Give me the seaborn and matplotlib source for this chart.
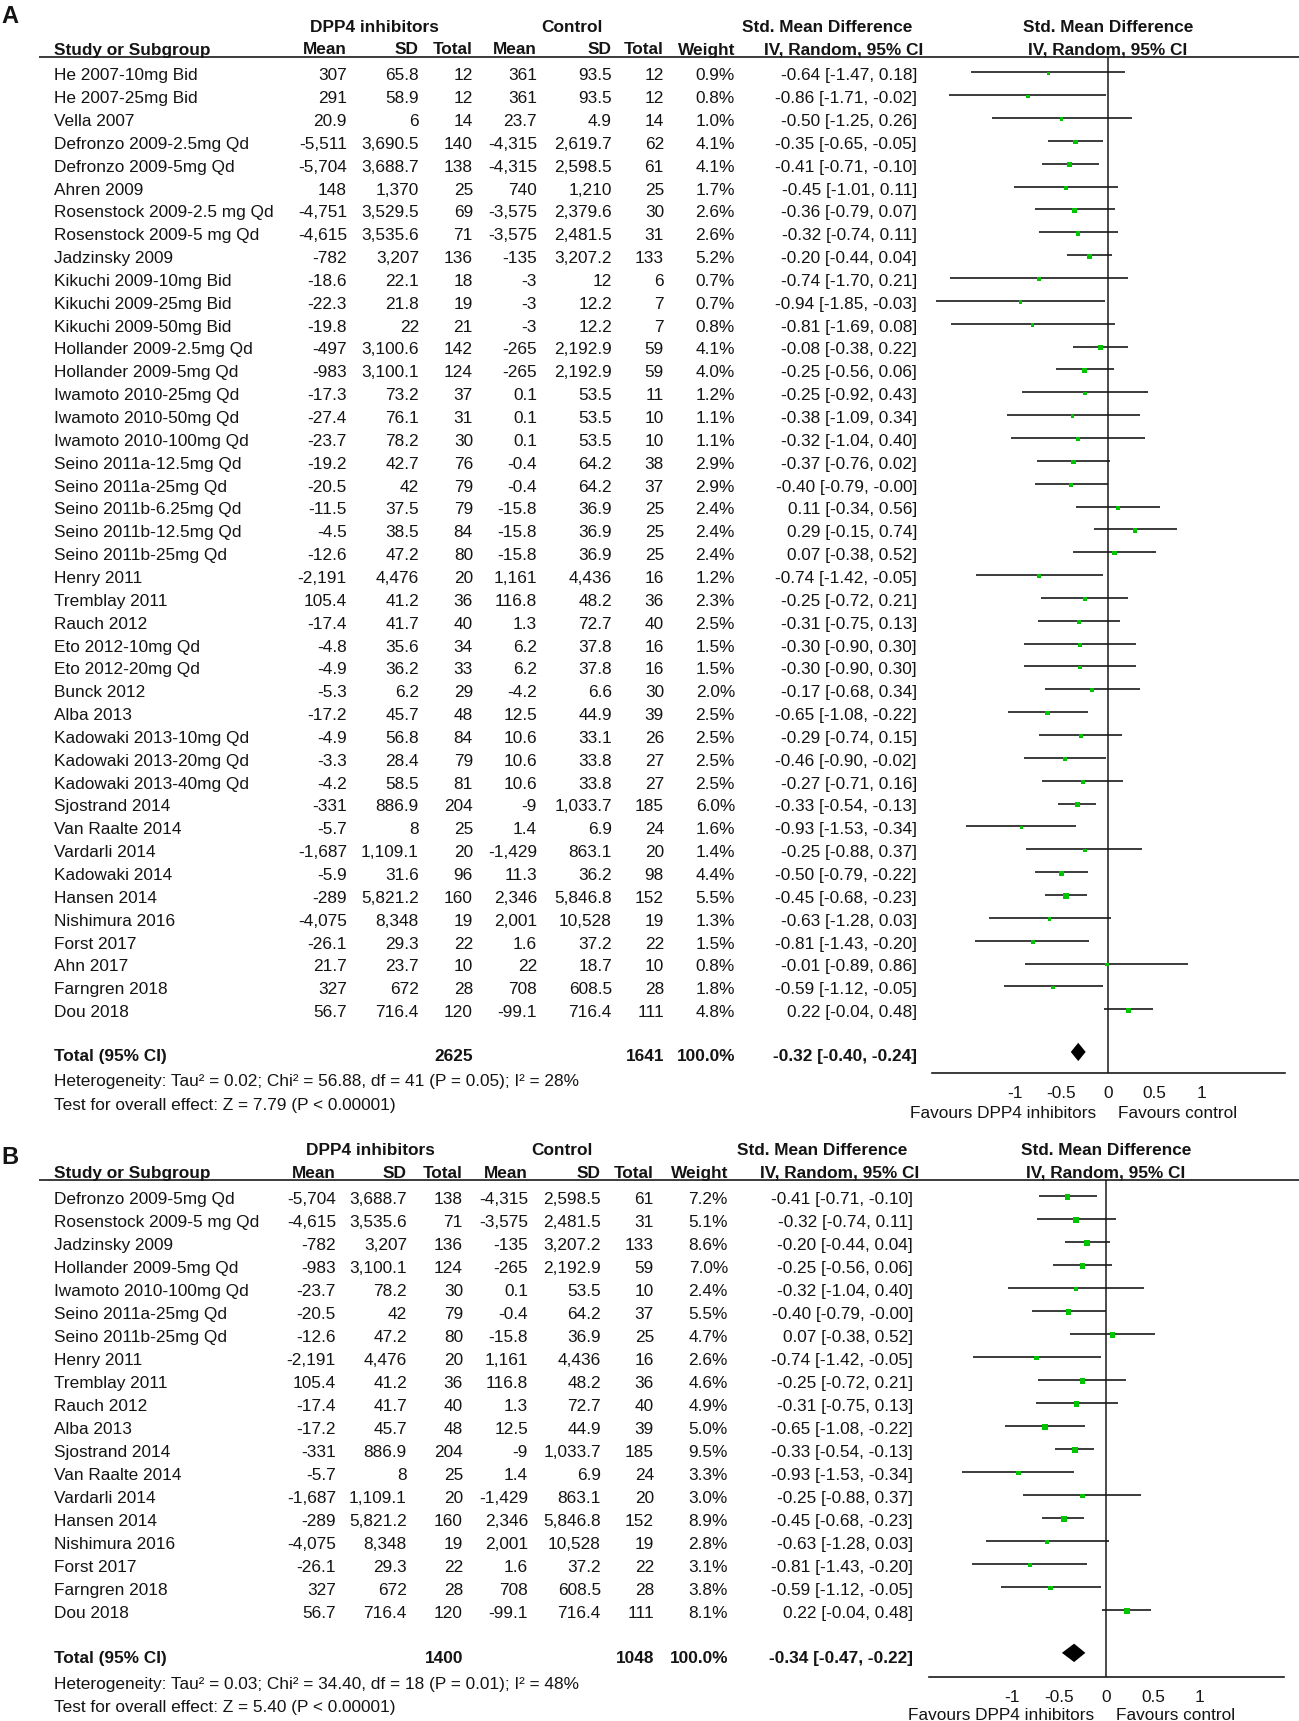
import matplotlib
matplotlib.use("Agg")
import matplotlib.pyplot as plt
import seaborn as sns
import pandas as pd
from matplotlib.transforms import blended_transform_factory

# ---------------- data : panel A ----------------
studies_a = ["He 2007-10mg Bid", "He 2007-25mg Bid", "Vella 2007", "Defronzo 2009-2.5mg Qd",
             "Defronzo 2009-5mg Qd", "Ahren 2009", "Rosenstock 2009-2.5 mg Qd", "Rosenstock 2009-5 mg Qd",
             "Jadzinsky 2009", "Kikuchi 2009-10mg Bid", "Kikuchi 2009-25mg Bid", "Kikuchi 2009-50mg Bid",
             "Hollander 2009-2.5mg Qd", "Hollander 2009-5mg Qd", "Iwamoto 2010-25mg Qd", "Iwamoto 2010-50mg Qd",
             "Iwamoto 2010-100mg Qd", "Seino 2011a-12.5mg Qd", "Seino 2011a-25mg Qd", "Seino 2011b-6.25mg Qd",
             "Seino 2011b-12.5mg Qd", "Seino 2011b-25mg Qd", "Henry 2011", "Tremblay 2011", "Rauch 2012",
             "Eto 2012-10mg Qd", "Eto 2012-20mg Qd", "Bunck 2012", "Alba 2013", "Kadowaki 2013-10mg Qd",
             "Kadowaki 2013-20mg Qd", "Kadowaki 2013-40mg Qd", "Sjostrand 2014", "Van Raalte 2014",
             "Vardarli 2014", "Kadowaki 2014", "Hansen 2014", "Nishimura 2016", "Forst 2017", "Ahn 2017",
             "Farngren 2018", "Dou 2018"]
dpp4_mean_a = [307, 291, 20.9, -5511, -5704, 148, -4751, -4615, -782, -18.6, -22.3, -19.8, -497, -983,
               -17.3, -27.4, -23.7, -19.2, -20.5, -11.5, -4.5, -12.6, -2191, 105.4, -17.4, -4.8, -4.9, -5.3,
               -17.2, -4.9, -3.3, -4.2, -331, -5.7, -1687, -5.9, -289, -4075, -26.1, 21.7, 327, 56.7]
dpp4_sd_a = [65.8, 58.9, 6, 3690.5, 3688.7, 1370, 3529.5, 3535.6, 3207, 22.1, 21.8, 22, 3100.6, 3100.1,
             73.2, 76.1, 78.2, 42.7, 42, 37.5, 38.5, 47.2, 4476, 41.2, 41.7, 35.6, 36.2, 6.2, 45.7, 56.8,
             28.4, 58.5, 886.9, 8, 1109.1, 31.6, 5821.2, 8348, 29.3, 23.7, 672, 716.4]
dpp4_n_a = [12, 12, 14, 140, 138, 25, 69, 71, 136, 18, 19, 21, 142, 124, 37, 31, 30, 76, 79, 79, 84, 80,
            20, 36, 40, 34, 33, 29, 48, 84, 79, 81, 204, 25, 20, 96, 160, 19, 22, 10, 28, 120]
ctrl_mean_a = [361, 361, 23.7, -4315, -4315, 740, -3575, -3575, -135, -3, -3, -3, -265, -265, 0.1, 0.1,
               0.1, -0.4, -0.4, -15.8, -15.8, -15.8, 1161, 116.8, 1.3, 6.2, 6.2, -4.2, 12.5, 10.6, 10.6,
               10.6, -9, 1.4, -1429, 11.3, 2346, 2001, 1.6, 22, 708, -99.1]
ctrl_sd_a = [93.5, 93.5, 4.9, 2619.7, 2598.5, 1210, 2379.6, 2481.5, 3207.2, 12, 12.2, 12.2, 2192.9, 2192.9,
             53.5, 53.5, 53.5, 64.2, 64.2, 36.9, 36.9, 36.9, 4436, 48.2, 72.7, 37.8, 37.8, 6.6, 44.9, 33.1,
             33.8, 33.8, 1033.7, 6.9, 863.1, 36.2, 5846.8, 10528, 37.2, 18.7, 608.5, 716.4]
ctrl_n_a = [12, 12, 14, 62, 61, 25, 30, 31, 133, 6, 7, 7, 59, 59, 11, 10, 10, 38, 37, 25, 25, 25, 16, 36,
            40, 16, 16, 30, 39, 26, 27, 27, 185, 24, 20, 98, 152, 19, 22, 10, 28, 111]
weight_a = [0.9, 0.8, 1.0, 4.1, 4.1, 1.7, 2.6, 2.6, 5.2, 0.7, 0.7, 0.8, 4.1, 4.0, 1.2, 1.1, 1.1, 2.9, 2.9,
            2.4, 2.4, 2.4, 1.2, 2.3, 2.5, 1.5, 1.5, 2.0, 2.5, 2.5, 2.5, 2.5, 6.0, 1.6, 1.4, 4.4, 5.5, 1.3,
            1.5, 0.8, 1.8, 4.8]
smd_a = [-0.64, -0.86, -0.50, -0.35, -0.41, -0.45, -0.36, -0.32, -0.20, -0.74, -0.94, -0.81, -0.08, -0.25,
         -0.25, -0.38, -0.32, -0.37, -0.40, 0.11, 0.29, 0.07, -0.74, -0.25, -0.31, -0.30, -0.30, -0.17,
         -0.65, -0.29, -0.46, -0.27, -0.33, -0.93, -0.25, -0.50, -0.45, -0.63, -0.81, -0.01, -0.59, 0.22]
lo_a = [-1.47, -1.71, -1.25, -0.65, -0.71, -1.01, -0.79, -0.74, -0.44, -1.70, -1.85, -1.69, -0.38, -0.56,
        -0.92, -1.09, -1.04, -0.76, -0.79, -0.34, -0.15, -0.38, -1.42, -0.72, -0.75, -0.90, -0.90, -0.68,
        -1.08, -0.74, -0.90, -0.71, -0.54, -1.53, -0.88, -0.79, -0.68, -1.28, -1.43, -0.89, -1.12, -0.04]
hi_a = [0.18, -0.02, 0.26, -0.05, -0.10, 0.11, 0.07, 0.11, 0.04, 0.21, -0.03, 0.08, 0.22, 0.06, 0.43, 0.34,
        0.40, 0.02, -0.00, 0.56, 0.74, 0.52, -0.05, 0.21, 0.13, 0.30, 0.30, 0.34, -0.22, 0.15, -0.02, 0.16,
        -0.13, -0.34, 0.37, -0.22, -0.23, 0.03, -0.20, 0.86, -0.05, 0.48]
total_a = {"n_dpp4": 2625, "n_ctrl": 1641, "smd": -0.32, "lo": -0.40, "hi": -0.24}
het_a = "Heterogeneity: Tau² = 0.02; Chi² = 56.88, df = 41 (P = 0.05); I² = 28%"
test_a = "Test for overall effect: Z = 7.79 (P < 0.00001)"

# ---------------- data : panel B ----------------
studies_b = ["Defronzo 2009-5mg Qd", "Rosenstock 2009-5 mg Qd", "Jadzinsky 2009", "Hollander 2009-5mg Qd",
             "Iwamoto 2010-100mg Qd", "Seino 2011a-25mg Qd", "Seino 2011b-25mg Qd", "Henry 2011",
             "Tremblay 2011", "Rauch 2012", "Alba 2013", "Sjostrand 2014", "Van Raalte 2014", "Vardarli 2014",
             "Hansen 2014", "Nishimura 2016", "Forst 2017", "Farngren 2018", "Dou 2018"]
dpp4_mean_b = [-5704, -4615, -782, -983, -23.7, -20.5, -12.6, -2191, 105.4, -17.4, -17.2, -331, -5.7, -1687,
               -289, -4075, -26.1, 327, 56.7]
dpp4_sd_b = [3688.7, 3535.6, 3207, 3100.1, 78.2, 42, 47.2, 4476, 41.2, 41.7, 45.7, 886.9, 8, 1109.1, 5821.2,
             8348, 29.3, 672, 716.4]
dpp4_n_b = [138, 71, 136, 124, 30, 79, 80, 20, 36, 40, 48, 204, 25, 20, 160, 19, 22, 28, 120]
ctrl_mean_b = [-4315, -3575, -135, -265, 0.1, -0.4, -15.8, 1161, 116.8, 1.3, 12.5, -9, 1.4, -1429, 2346,
               2001, 1.6, 708, -99.1]
ctrl_sd_b = [2598.5, 2481.5, 3207.2, 2192.9, 53.5, 64.2, 36.9, 4436, 48.2, 72.7, 44.9, 1033.7, 6.9, 863.1,
             5846.8, 10528, 37.2, 608.5, 716.4]
ctrl_n_b = [61, 31, 133, 59, 10, 37, 25, 16, 36, 40, 39, 185, 24, 20, 152, 19, 22, 28, 111]
weight_b = [7.2, 5.1, 8.6, 7.0, 2.4, 5.5, 4.7, 2.6, 4.6, 4.9, 5.0, 9.5, 3.3, 3.0, 8.9, 2.8, 3.1, 3.8, 8.1]
smd_b = [-0.41, -0.32, -0.20, -0.25, -0.32, -0.40, 0.07, -0.74, -0.25, -0.31, -0.65, -0.33, -0.93, -0.25,
         -0.45, -0.63, -0.81, -0.59, 0.22]
lo_b = [-0.71, -0.74, -0.44, -0.56, -1.04, -0.79, -0.38, -1.42, -0.72, -0.75, -1.08, -0.54, -1.53, -0.88,
        -0.68, -1.28, -1.43, -1.12, -0.04]
hi_b = [-0.10, 0.11, 0.04, 0.06, 0.40, -0.00, 0.52, -0.05, 0.21, 0.13, -0.22, -0.13, -0.34, 0.37, -0.23,
        0.03, -0.20, -0.05, 0.48]
total_b = {"n_dpp4": 1400, "n_ctrl": 1048, "smd": -0.34, "lo": -0.47, "hi": -0.22}
het_b = "Heterogeneity: Tau² = 0.03; Chi² = 34.40, df = 18 (P = 0.01); I² = 48%"
test_b = "Test for overall effect: Z = 5.40 (P < 0.00001)"

tick_values = [-1, -0.5, 0, 0.5, 1]
tick_labels = ["-1", "-0.5", "0", "0.5", "1"]

# ---------------- styling ----------------
sns.set_theme(style="white")
plt.rcParams["font.family"] = ["Liberation Sans", "DejaVu Sans"]
FS = 12.4
TXT = "#141414"
GREEN = "#00c400"

W, H = 1299, 1721
fig = plt.figure(figsize=(W / 100, H / 100), dpi=100)
fig.patch.set_facecolor("white")
tax = fig.add_axes([0, 0, 1, 1])
tax.set_xlim(0, W)
tax.set_ylim(H, 0)
tax.axis("off")


def fmt(v):
    return f"{v:,}"


def draw_panel(letter, studies, m1, s1, n1, m2, s2, n2, wts, smd, lo, hi, tot, het, test, L):
    n = len(studies)
    # forest axes, positioned in pixels
    left = L["zero"] - 1.89 * L["unit"]
    right = L["zero"] + 1.90 * L["unit"]
    ax = fig.add_axes([left / W, 1 - L["axis_y"] / H, (right - left) / W, (L["axis_y"] - L["top"]) / H])
    ax.patch.set_alpha(0)
    ax.set_xlim(-1.89, 1.90)
    ax.set_ylim((L["axis_y"] - L["row0"]) / L["step"], (L["top"] - L["row0"]) / L["step"])

    df = pd.DataFrame({"smd": smd, "lo": lo, "hi": hi, "weight": wts, "row": list(range(n))})
    ax.hlines(df["row"] - 0.05, df["lo"], df["hi"], color="#1a1a1a", lw=1.2, zorder=2)
    sns.scatterplot(data=df, x="smd", y="row", size="weight", sizes=(6, 22), size_norm=(0.7, 9.5),
                    marker="s", color=GREEN, linewidth=0, legend=False, ax=ax, zorder=3)
    ax.axvline(0, color="#1a1a1a", lw=1.1, zorder=1)
    trow = n + 0.82
    ax.fill([tot["lo"], tot["smd"], tot["hi"], tot["smd"]], [trow, trow - 0.4, trow, trow + 0.4],
            color="black", lw=0, zorder=3)

    for s in ["top", "left", "right"]:
        ax.spines[s].set_visible(False)
    ax.spines["bottom"].set_color("#1a1a1a")
    ax.spines["bottom"].set_linewidth(1.2)
    ax.set_yticks([])
    ax.set_xticks(tick_values)
    ax.set_xticklabels(tick_labels)
    ax.tick_params(axis="x", direction="inout", length=10, width=1.1, labelsize=FS, pad=4.5,
                   colors="#1a1a1a", labelcolor=TXT)
    ax.set_xlabel("")
    ax.set_ylabel("")

    # table text: x in figure pixels, y in forest row units (nudged to optical centre)
    tr = blended_transform_factory(tax.transData, ax.transData)
    c = L["cols"]
    d = L["txt_dy"]
    for i in range(n):
        kw = dict(transform=tr, fontsize=FS, color=TXT, va="center")
        y = i + d
        ax.text(c["study"], y, studies[i], ha="left", **kw)
        ax.text(c["m1"], y, fmt(m1[i]), ha="right", **kw)
        ax.text(c["s1"], y, fmt(s1[i]), ha="right", **kw)
        ax.text(c["n1"], y, fmt(n1[i]), ha="right", **kw)
        ax.text(c["m2"], y, fmt(m2[i]), ha="right", **kw)
        ax.text(c["s2"], y, fmt(s2[i]), ha="right", **kw)
        ax.text(c["n2"], y, fmt(n2[i]), ha="right", **kw)
        ax.text(c["w"], y, f"{wts[i]:.1f}%", ha="right", **kw)
        ax.text(c["ci"], y, f"{smd[i]:.2f} [{lo[i]:.2f}, {hi[i]:.2f}]", ha="right", **kw)

    ty = n + 0.88 + d + L["tot_dy"]
    kb = dict(transform=tr, fontsize=FS, color=TXT, va="center", fontweight="bold")
    ax.text(c["study"], ty, "Total (95% CI)", ha="left", **kb)
    ax.text(c["n1"], ty, str(tot["n_dpp4"]), ha="right", **kb)
    ax.text(c["n2"], ty, str(tot["n_ctrl"]), ha="right", **kb)
    ax.text(c["w"], ty, "100.0%", ha="right", **kb)
    ax.text(c["ci"], ty, f"{tot['smd']:.2f} [{tot['lo']:.2f}, {tot['hi']:.2f}]", ha="right", **kb)
    kn = dict(transform=tr, fontsize=FS, color=TXT, va="center")
    ax.text(c["study"], n + 1.98 + d + L["tot_dy"], het, ha="left", **kn)
    ax.text(c["study"], n + 3.0 + d + L["tot_dy"], test, ha="left", **kn)

    # headers (pixel coordinates)
    hb = dict(fontsize=FS, color=TXT, va="center", fontweight="bold")
    y1, y2 = L["h1"], L["h2"]
    tax.text(1, L["letter_y"], letter, fontsize=17, fontweight="bold", color=TXT, va="center", ha="left")
    tax.text(c["dpp4_c"], y1, "DPP4 inhibitors", ha="center", **hb)
    tax.text(c["ctrl_c"], y1, "Control", ha="center", **hb)
    tax.text(c["smd_c"], y1, "Std. Mean Difference", ha="center", **hb)
    tax.text(L["zero"], y1, "Std. Mean Difference", ha="center", **hb)
    tax.text(c["study"], y2, "Study or Subgroup", ha="left", **hb)
    tax.text(c["m1"], y2, "Mean", ha="right", **hb)
    tax.text(c["s1"], y2, "SD", ha="right", **hb)
    tax.text(c["n1"], y2, "Total", ha="right", **hb)
    tax.text(c["m2"], y2, "Mean", ha="right", **hb)
    tax.text(c["s2"], y2, "SD", ha="right", **hb)
    tax.text(c["n2"], y2, "Total", ha="right", **hb)
    tax.text(c["w"], y2, "Weight", ha="right", **hb)
    tax.text(c["ci"] + 6, y2, "IV, Random, 95% CI", ha="right", **hb)
    tax.text(L["zero"], y2, "IV, Random, 95% CI", ha="center", **hb)
    tax.plot([39, W], [L["top"], L["top"]], color="#1a1a1a", lw=1.2, solid_capstyle="butt")

    fv = dict(fontsize=FS, color=TXT, va="center")
    tax.text(L["zero"] - 12, L["fav_y"], "Favours DPP4 inhibitors", ha="right", **fv)
    tax.text(L["zero"] + 10, L["fav_y"], "Favours control", ha="left", **fv)


layout_a = dict(zero=1108, unit=93, top=57, axis_y=1073, row0=73.5, step=22.85, h1=27.5, h2=50,
                letter_y=16.5, fav_y=1113, txt_dy=0.1, tot_dy=0.05,
                cols=dict(study=54, m1=347, s1=419, n1=473, m2=537, s2=612, n2=664, w=735, ci=917,
                          dpp4_c=374, ctrl_c=572, smd_c=827))
layout_b = dict(zero=1106, unit=93.8, top=1180, axis_y=1677, row0=1197, step=23.0, h1=1150.5, h2=1173.5,
                letter_y=1158, fav_y=1716, txt_dy=0.1, tot_dy=0.1,
                cols=dict(study=54, m1=336, s1=407, n1=463, m2=528, s2=601, n2=654, w=728, ci=913,
                          dpp4_c=370, ctrl_c=562, smd_c=822))

draw_panel("A", studies_a, dpp4_mean_a, dpp4_sd_a, dpp4_n_a, ctrl_mean_a, ctrl_sd_a, ctrl_n_a,
           weight_a, smd_a, lo_a, hi_a, total_a, het_a, test_a, layout_a)
draw_panel("B", studies_b, dpp4_mean_b, dpp4_sd_b, dpp4_n_b, ctrl_mean_b, ctrl_sd_b, ctrl_n_b,
           weight_b, smd_b, lo_b, hi_b, total_b, het_b, test_b, layout_b)

fig.savefig("out.png", dpi=100, facecolor="white")
